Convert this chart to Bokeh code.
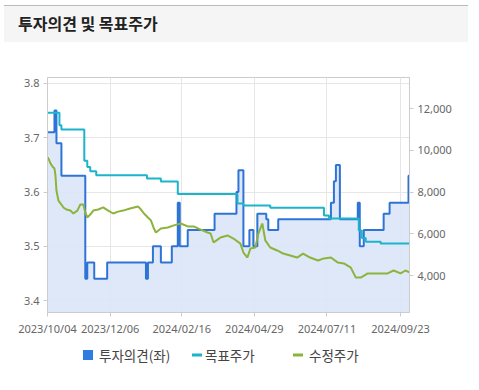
import pandas as pd
from bokeh.plotting import figure
from bokeh.models import (Range1d, LinearAxis, FixedTicker, NumeralTickFormatter,
                          DatetimeTickFormatter, ColumnDataSource, Div)
from bokeh.layouts import column
from bokeh.embed import file_html
from bokeh.resources import INLINE

title_text = "투자의견 및 목표주가"
series_names = ["투자의견(좌)", "목표주가", "수정주가"]

opinion_dates = ["2023-10-04", "2023-10-11", "2023-10-13", "2023-10-18", "2023-11-11", "2023-11-13",
                 "2023-11-20", "2023-12-03", "2024-01-11", "2024-01-13", "2024-01-18", "2024-01-26",
                 "2024-02-06", "2024-02-12", "2024-02-14", "2024-02-22", "2024-03-20", "2024-04-11",
                 "2024-04-13", "2024-04-18", "2024-04-24", "2024-04-28", "2024-05-02", "2024-05-11",
                 "2024-05-13", "2024-05-23", "2024-07-15", "2024-07-18", "2024-07-20", "2024-07-24",
                 "2024-08-11", "2024-08-13", "2024-08-17", "2024-09-06", "2024-09-12", "2024-10-01",
                 "2024-10-02"]
opinion_values = [3.71, 3.75, 3.69, 3.63, 3.44, 3.47,
                  3.44, 3.47, 3.44, 3.47, 3.50, 3.47,
                  3.50, 3.58, 3.50, 3.53, 3.56, 3.60,
                  3.64, 3.50, 3.53, 3.50, 3.56, 3.55,
                  3.53, 3.55, 3.58, 3.62, 3.65, 3.55,
                  3.58, 3.50, 3.53, 3.56, 3.58, 3.63,
                  3.63]

target_dates = ["2023-10-04", "2023-10-16", "2023-10-18", "2023-11-10", "2023-11-13", "2023-11-16",
                "2023-11-22", "2024-01-12", "2024-01-26", "2024-02-12", "2024-04-12", "2024-04-18",
                "2024-05-15", "2024-07-08", "2024-07-13", "2024-08-12", "2024-08-15", "2024-08-19",
                "2024-09-03", "2024-10-02"]
target_values = [11800, 11200, 11000, 9500, 9200, 9000,
                 8800, 8650, 8500, 7900, 7450, 7350,
                 7250, 6870, 6730, 6150, 5800, 5620,
                 5530, 5530]

price_dates = ["2023-10-04", "2023-10-05", "2023-10-07", "2023-10-09", "2023-10-11", "2023-10-12",
               "2023-10-13", "2023-10-15", "2023-10-18", "2023-10-20", "2023-10-23", "2023-10-27",
               "2023-10-30", "2023-11-03", "2023-11-06", "2023-11-09", "2023-11-11", "2023-11-13",
               "2023-11-16", "2023-11-19", "2023-11-24", "2023-11-29", "2023-12-04", "2023-12-09",
               "2023-12-14", "2023-12-19", "2023-12-26", "2024-01-03", "2024-01-06", "2024-01-09",
               "2024-01-13", "2024-01-16", "2024-01-19", "2024-01-21", "2024-01-26", "2024-02-02",
               "2024-02-08", "2024-02-15", "2024-02-22", "2024-02-28", "2024-03-06", "2024-03-13",
               "2024-03-16", "2024-03-19", "2024-03-23", "2024-03-26", "2024-04-02", "2024-04-08",
               "2024-04-15", "2024-04-18", "2024-04-22", "2024-04-25", "2024-04-30", "2024-05-03",
               "2024-05-07", "2024-05-10", "2024-05-15", "2024-05-22", "2024-05-28", "2024-06-04",
               "2024-06-11", "2024-06-17", "2024-06-24", "2024-07-02", "2024-07-08", "2024-07-15",
               "2024-07-22", "2024-07-28", "2024-08-04", "2024-08-09", "2024-08-14", "2024-08-21",
               "2024-08-31", "2024-09-10", "2024-09-16", "2024-09-23", "2024-09-28", "2024-10-02"]
price_values = [9650, 9600, 9370, 9220, 9130, 8790,
                8070, 7590, 7400, 7260, 7160, 7110,
                6970, 7110, 7400, 7400, 7020, 6780,
                6920, 7110, 7160, 7260, 7110, 6970,
                7060, 7110, 7210, 7310, 7160, 6970,
                6780, 6640, 6250, 6060, 6250, 6300,
                6400, 6490, 6350, 6350, 6200, 6060,
                6010, 5580, 5720, 5820, 5920, 5770,
                5530, 5100, 4860, 5290, 5340, 6010,
                6490, 5680, 5340, 5200, 5050, 4960,
                4860, 5050, 4860, 4720, 4820, 4860,
                4620, 4580, 4380, 3900, 3900, 4100,
                4100, 4100, 4240, 4100, 4240, 4150]

tick_dates = ["2023-10-04", "2023-12-06", "2024-02-16", "2024-04-29", "2024-07-11", "2024-09-23"]
left_ticks = [3.4, 3.5, 3.6, 3.7, 3.8]
right_ticks = [4000, 6000, 8000, 10000, 12000]

x_start, x_end = "2023-10-04", "2024-10-02"
left_min, left_max = 3.378, 3.811
right_min, right_max = 2228, 13485

C_OPINION = "#2e74d6"
C_FILL = "#dce6f7"
C_TARGET = "#1bb4cb"
C_PRICE = "#8cb43c"
C_SQUARE = "#2f7de0"
AXIS_C = "#cccccc"
GRID_C = "#e6e6e6"
LABEL_C = "#666666"
FONT = "Noto Sans"
KFONT = "Noto Sans CJK KR"

op_src = ColumnDataSource(dict(date=pd.to_datetime(opinion_dates), v=opinion_values))
tg_src = ColumnDataSource(dict(date=pd.to_datetime(target_dates), v=target_values))
pr_src = ColumnDataSource(dict(date=pd.to_datetime(price_dates), v=price_values))

# ---- title bar ----
title_div = Div(text=title_text, width=464, height=37, margin=(5, 0, 0, 4),
                styles={"background-color": "#f5f5f5", "border-top": "1px solid #bbbbbb",
                        "box-sizing": "border-box", "padding-left": "14px",
                        "font-family": KFONT, "font-weight": "bold", "font-size": "16px",
                        "line-height": "35px", "color": "#222222"})

# ---- main chart ----
p = figure(width=472, height=298, x_axis_type="datetime",
           x_range=Range1d(pd.Timestamp(x_start), pd.Timestamp(x_end)),
           y_range=Range1d(left_min, left_max),
           output_backend="svg", toolbar_location=None, margin=(0, 0, 0, 0),
           min_border_left=47, min_border_right=63, min_border_top=35, min_border_bottom=28)
p.extra_y_ranges = {"price": Range1d(right_min, right_max)}
p.outline_line_color = AXIS_C
p.background_fill_color = "white"
p.border_fill_color = "white"

tick_ms = [pd.Timestamp(d).value / 1e6 for d in tick_dates]
p.xaxis.ticker = FixedTicker(ticks=tick_ms)
fmt = "%Y/%m/%d"
p.xaxis.formatter = DatetimeTickFormatter(days=fmt, months=fmt, years=fmt)
p.yaxis.ticker = FixedTicker(ticks=left_ticks)

ry = LinearAxis(y_range_name="price", ticker=FixedTicker(ticks=right_ticks),
                formatter=NumeralTickFormatter(format="0,0"))
p.add_layout(ry, "right")

for ax in p.axis:
    ax.axis_line_color = AXIS_C
    ax.major_tick_line_color = AXIS_C
    ax.minor_tick_line_color = None
    ax.major_tick_out = 4
    ax.major_tick_in = 0
    ax.major_label_text_font = FONT
    ax.major_label_text_font_size = "11px"
    ax.major_label_text_color = LABEL_C
    ax.major_label_standoff = 4

p.xgrid.grid_line_color = GRID_C
p.ygrid.grid_line_color = GRID_C

p.varea_step(x="date", y1="v", y2=left_min, source=op_src, step_mode="after",
             fill_color=C_FILL, fill_alpha=0.9)
p.step(x="date", y="v", source=op_src, mode="after", line_color=C_OPINION, line_width=2)
p.step(x="date", y="v", source=tg_src, mode="after", y_range_name="price",
       line_color=C_TARGET, line_width=2)
p.line(x="date", y="v", source=pr_src, y_range_name="price",
       line_color=C_PRICE, line_width=2)

# ---- legend row ----
legend_items = [
    (series_names[0], f"width:10px;height:10px;background:{C_SQUARE};", 83, 99),
    (series_names[1], f"width:10px;height:3px;background:{C_TARGET};", 192, 205),
    (series_names[2], f"width:10px;height:3px;background:{C_PRICE};", 293, 309),
]
html = ['<div style="position:relative;width:472px;height:30px;'
        f'font-family:\'{KFONT}\';font-size:13.5px;color:#444444;">']
for name, mark_css, mx, tx in legend_items:
    html.append(f'<span style="position:absolute;left:{mx}px;top:50%;'
                f'transform:translateY(-50%);{mark_css}"></span>')
    html.append(f'<span style="position:absolute;left:{tx}px;top:0;line-height:30px;'
                f'white-space:nowrap;">{name}</span>')
html.append('</div>')
legend_div = Div(text="".join(html), width=472, height=30, margin=(0, 0, 0, 0))

layout = column(title_div, p, legend_div, spacing=0)
open("out.html", "w").write(file_html(layout, INLINE))
